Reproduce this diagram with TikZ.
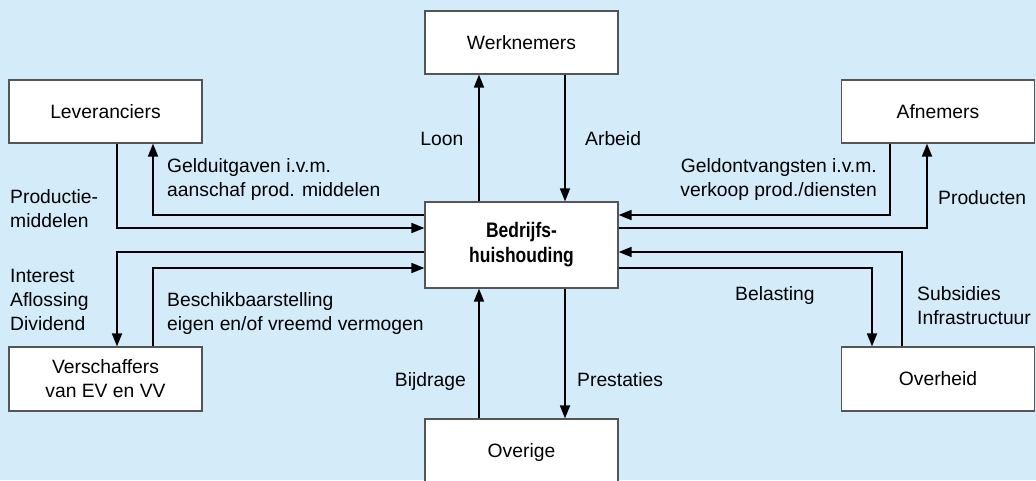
\documentclass[tikz,border=0pt]{standalone}
\usepackage{fontspec}
\setmainfont{Liberation Sans}
\newfontfamily\headfont{Liberation Sans}[FakeStretch=0.83]
\usetikzlibrary{arrows.meta}
\definecolor{bgblue}{RGB}{212,235,250}
\definecolor{framegray}{RGB}{85,85,85}

\begin{document}
\begin{tikzpicture}[x=1pt,y=-1pt,
  font=\fontsize{19.3}{24}\selectfont,
  box/.style={draw=framegray, line width=1.2pt, fill=white,
    minimum width=193pt, minimum height=63pt, inner sep=0pt, align=center},
  flow/.style={line width=1.7pt, -{Triangle[length=13pt,width=10pt]}},
  lbl/.style={inner sep=0pt, align=left},
  lblr/.style={inner sep=0pt, align=right}]

% canvas
\useasboundingbox (0,0) rectangle (1036,480);
\clip (0,0) rectangle (1036,480);
\fill[bgblue] (0,0) rectangle (1036,480);

% boxes
\node[box] (werk) at (521.5,42.5) {Werknemers};
\node[box] (lev)  at (105.5,111.5) {Leveranciers};
\node[box] (afn)  at (938,111.5) {Afnemers};
\node[box, minimum height=86pt, font=\headfont\bfseries\fontsize{21}{25}\selectfont]
  (cen) at (521.5,245) {Bedrijfs-\\huishouding};
\node[box, minimum height=64pt] (ver) at (105.5,379) {Verschaffers\\van EV en VV};
\node[box, minimum height=64pt] (ovh) at (938,379) {Overheid};
\node[box, text depth=0pt] (ovr) at (521.5,450.5) {Overige};

% columns and rows of the flow lines
\coordinate (cL1) at (117,0);
\coordinate (cL2) at (153,0);
\coordinate (cM1) at (479,0);
\coordinate (cM2) at (565,0);
\coordinate (cR1) at (890,0);
\coordinate (cR2) at (927,0);
\coordinate (cR3) at (872,0);
\coordinate (cR4) at (902,0);
\coordinate (r1) at (0,215);
\coordinate (r2) at (0,228);
\coordinate (r3) at (0,252);
\coordinate (r4) at (0,268);

% flows
\draw[flow] (cen.north -| cM1) -- (werk.south -| cM1);
\draw[flow] (werk.south -| cM2) -- (cen.north -| cM2);
\draw[flow] (cen.west |- r1) -| (lev.south -| cL2);
\draw[flow] (lev.south -| cL1) |- (cen.west |- r2);
\draw[flow] (afn.south -| cR1) |- (cen.east |- r1);
\draw[flow] (cen.east |- r2) -| (afn.south -| cR2);
\draw[flow] (cen.west |- r3) -| (ver.north -| cL1);
\draw[flow] (ver.north -| cL2) |- (cen.west |- r4);
\draw[flow] (ovh.north -| cR4) |- (cen.east |- r3);
\draw[flow] (cen.east |- r4) -| (ovh.north -| cR3);
\draw[flow] (ovr.north -| cM1) -- (cen.south -| cM1);
\draw[flow] (cen.south -| cM2) -- (ovr.north -| cM2);

% flow labels (placed by the baseline of their last line)
\node[lblr, anchor=base east] (tLoon) at (463.5,145) {Loon};
\node[lbl, anchor=base west] (tArbeid) at (585,145) {Arbeid};
\node[lbl, anchor=base west] (tGeldUit) at (167,196) {Gelduitgaven i.v.m.\\aanschaf prod. middelen};
\node[lbl, anchor=base west] (tProdMid) at (10,227) {Productie-\\middelen};
\node[lblr, anchor=base east] (tGeldOnt) at (877,196) {Geldontvangsten i.v.m.\\verkoop prod./diensten};
\node[lbl, anchor=base west] (tProd) at (938,204) {Producten};
\node[lbl, anchor=base west] (tInterest) at (10,330) {Interest\\Aflossing\\Dividend};
\node[lbl, anchor=base west] (tBeschik) at (167,330) {Beschikbaarstelling\\eigen en/of vreemd vermogen};
\node[lblr, anchor=base east] (tBijdrage) at (466,386) {Bijdrage};
\node[lbl, anchor=base west] (tPrest) at (577,386) {Prestaties};
\node[lbl, anchor=base west] (tBelasting) at (735,300) {Belasting};
\node[lbl, anchor=base west] (tSubs) at (917,324) {Subsidies\\Infrastructuur};
\end{tikzpicture}
\end{document}
